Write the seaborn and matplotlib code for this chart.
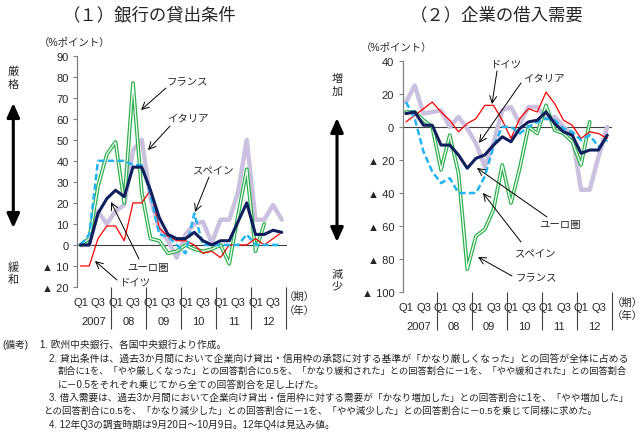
import numpy as np
import matplotlib
matplotlib.use('Agg')
import matplotlib.pyplot as plt
from matplotlib.text import Annotation
import seaborn as sns

# quarterly, 2007Q1 - 2012Q4, %pt
# (1) bank lending conditions
lend_euro    = [0, 0, 15, 22, 26, 23, 37, 37, 26, 13, 5, 3, 3, 6, 2, 0, 2, 2, 11, 20, 5, 5, 7, 6]
lend_germany = [-10, -10, 3, 9, 9, 2, 20, 20, 26, 8, 4, 2, 2, 0, -4, -3, -6, 0, 0, 0, 3, 0, 3, 6]
lend_france  = [0, 3, 28, 43, 49, 20, 77, 25, 3, 2, -4, -3, 0, -2, -3, -2, 0, -9, 14, 36, -3, 10, np.nan, np.nan]
lend_italy   = [0, 0, 16, 10, 16, 19, 45, 50, 22, 8, 2, -6, 5, 10, 11, 1, 12, 12, 25, 50, 12, 12, 19, 12]
lend_spain   = [0, 5, 40, 40, 40, 40, 38, 38, 24, 5, 4, 0, -4, 15, 0, 0, 0, 0, 0, 5, 0, 0, 0, 0]

# (2) corporate loan demand
dem_euro    = [8, 9, 1, 1, -11, -11, -17, -25, -19, -17, -11, -6, -9, -1, 3, 4, 9, 2, -3, -5, -16, -14, -14, -5]
dem_germany = [3, 7, 11, 15, 9, 4, -3, 2, 5, 13, 13, 4, -7, 5, 11, 9, 21, 14, 4, 1, -7, -3, -4, -7]
dem_france  = [9, 9, 4, 0, -26, -5, -28, -86, -66, -62, -50, -23, -46, -25, 0, -4, 13, -2, -4, -9, -23, 3, np.nan, np.nan]
dem_italy   = [15, 25, 8, 9, 10, 0, 6, -1, -10, -24, -10, 10, 12, 2, 12, 12, 5, 6, 0, -5, -38, -38, -18, 0]
dem_spain   = [15, 5, -15, -27, -34, -31, -40, -40, -40, -30, -12, 0, 0, -4, 0, 3, 5, 4, -1, -3, -8, -5, -12, -8]

quarter_labels = ['Q1', 'Q3'] * 6
year_labels = ['2007', '08', '09', '10', '11', '12']

sns.set_style('white')
plt.rcParams['font.family'] = ['Liberation Sans', 'Noto Sans CJK JP', 'DejaVu Sans']
plt.rcParams['axes.unicode_minus'] = False

W, H = 643, 439
fig = plt.figure(figsize=(W / 100, H / 100), dpi=100)


def fx(x):
    return x / W


def fy(y):
    return 1 - y / H


QW = 8.75  # px per quarter


def make_axes(q0_px, top_px, bottom_px):
    left = q0_px - 0.4 * QW
    ax = fig.add_axes([fx(left), fy(bottom_px), 23.95 * QW / W, (bottom_px - top_px) / H])
    ax.patch.set_visible(False)
    return ax


def draw_lines(ax, euro, germany, france, italy, spain):
    x = np.arange(len(euro))
    kw = dict(ax=ax, errorbar=None, legend=False)
    sns.lineplot(x=x, y=italy, color='#cbc1de', linewidth=3.2, zorder=2, **kw)
    sns.lineplot(x=x, y=france, color='#2bb04c', linewidth=2.7, zorder=3, **kw)
    sns.lineplot(x=x, y=france, color='white', linewidth=0.9, zorder=3.1, **kw)
    sns.lineplot(x=x, y=germany, color='#ff0000', linewidth=0.9, zorder=4, **kw)
    sns.lineplot(x=x, y=spain, color='#22b4f0', linewidth=1.8, linestyle=(0, (2.6, 1.3)), zorder=5, **kw)
    sns.lineplot(x=x, y=euro, color='#0f1f5e', linewidth=2.2, zorder=6, **kw)


def setup_axes(ax, ymin, ymax, step, sep_len):
    ax.set_xlim(-0.4, 23.55)
    ax.set_ylim(ymin, ymax)
    ticks = np.arange(ymin, ymax + 1, step)
    ax.set_yticks(ticks)
    ax.set_yticklabels([f'{t}' if t >= 0 else f'▲ {-t}' for t in ticks])
    ax.set_xticks(range(0, 24, 2))
    ax.set_xticklabels(quarter_labels)
    ax.set_xticks(np.arange(3.5, 24, 4), minor=True)
    ax.tick_params(axis='x', which='major', bottom=True, length=0, pad=7, labelsize=8)
    ax.tick_params(axis='x', which='minor', bottom=True, length=sep_len, width=0.8,
                   color='#404040', direction='out')
    ax.tick_params(axis='y', left=True, length=3, width=0.8, color='#808080', pad=3, labelsize=8)
    for s in ['top', 'right', 'bottom']:
        ax.spines[s].set_visible(False)
    ax.spines['left'].set_color('#808080')
    ax.spines['left'].set_linewidth(0.9)
    ax.axhline(0, color='#404040', lw=0.8, zorder=1)
    ax.set_xlabel('')
    ax.set_ylabel('')
    for i, yr in enumerate(year_labels):
        ax.text(1.5 + 4 * i, -0.147, yr, transform=ax.get_xaxis_transform(),
                ha='center', va='center', fontsize=8)


ax1 = make_axes(80.5, 56.7, 288)
draw_lines(ax1, lend_euro, lend_germany, lend_france, lend_italy, lend_spain)
setup_axes(ax1, -20, 90, 10, 30)

ax2 = make_axes(406, 61.7, 293.3)
draw_lines(ax2, dem_euro, dem_germany, dem_france, dem_italy, dem_spain)
setup_axes(ax2, -100, 40, 20, 27)

# titles and unit labels
fig.text(fx(150), fy(15), '（１）銀行の貸出条件', ha='center', va='center', fontsize=12.5)
fig.text(fx(497), fy(15), '（２）企業の借入需要', ha='center', va='center', fontsize=12.5)
fig.text(fx(75), fy(43), '（%ポイント）', ha='center', va='center', fontsize=7.5)
fig.text(fx(397), fy(48), '（%ポイント）', ha='center', va='center', fontsize=7.5)
for x, y1, y2 in [(299, 297, 311), (627, 303, 316)]:
    fig.text(fx(x), fy(y1), '（期）', ha='center', va='center', fontsize=7.5)
    fig.text(fx(x), fy(y2), '（年）', ha='center', va='center', fontsize=7.5)


def fig_arrow(tip, tail, style, lw, scale):
    fig.add_artist(Annotation('', xy=(fx(tip[0]), fy(tip[1])), xytext=(fx(tail[0]), fy(tail[1])),
                              xycoords='figure fraction', textcoords='figure fraction',
                              arrowprops=dict(arrowstyle=style, lw=lw, color='black',
                                              mutation_scale=scale, shrinkA=0, shrinkB=0)))


# side labels with double arrows
side = [
    (13.3, '厳\n格', 78.5, '緩\n和', 273.5, 104, 229),
    (337, '増\n加', 85.5, '減\n少', 280.5, 119, 243),
]
for x, top_txt, top_y, bot_txt, bot_y, a_top, a_bot in side:
    fig.text(fx(x), fy(top_y), top_txt, ha='center', va='center', fontsize=8, linespacing=1.35)
    fig.text(fx(x), fy(bot_y), bot_txt, ha='center', va='center', fontsize=8, linespacing=1.25)
    fig_arrow((x, a_top), (x, a_bot), '<|-|>,head_length=0.85,head_width=0.38', 2.2, 10)

# series call-outs: (label, text centre, arrow tail, arrow tip) in px
callouts = [
    ('フランス', (187, 82), (166, 89), (141, 111)),
    ('イタリア', (188, 119), (170, 127), (148, 151)),
    ('スペイン', (214, 170), (209, 178), (195, 213)),
    ('ユーロ圏', (148, 268), (139, 260), (111, 203)),
    ('ドイツ', (136, 283), (117, 281), (95, 262)),
    ('ドイツ', (507, 65), (497, 72), (492, 105)),
    ('イタリア', (544, 79), (521, 84), (479, 144)),
    ('ユーロ圏', (560, 225), (547, 218), (477, 169)),
    ('スペイン', (536, 253), (521, 243), (483, 194)),
    ('フランス', (536, 278), (512, 277), (478, 258)),
]
for label, (tx, ty), tail, tip in callouts:
    fig.text(fx(tx), fy(ty), label, ha='center', va='center', fontsize=7.5)
    fig_arrow(tip, tail, '->,head_length=0.5,head_width=0.25', 0.7, 10)

# notes: (x start, text, target right edge or None)
notes = [
    (2, '(備考)', None),
    (40, '1. 欧州中央銀行、各国中央銀行より作成。', None),
    (49, '2. 貸出条件は、過去3か月間において企業向け貸出・信用枠の承認に対する基準が「かなり厳しくなった」との回答が全体に占める', 630),
    (58, '割合に1を、「やや厳しくなった」との回答割合に0.5を、「かなり緩和された」との回答割合に－1を、「やや緩和された」との回答割合', 628),
    (58, 'に－0.5をそれぞれ乗じてから全ての回答割合を足し上げた。', None),
    (49, '3. 借入需要は、過去3か月間において企業向け貸出・信用枠に対する需要が「かなり増加した」との回答割合に1を、「やや増加した」', 628),
    (43, 'との回答割合に0.5を、「かなり減少した」との回答割合に－1を、「やや減少した」との回答割合に－0.5を乗じて同様に求めた。', 597),
    (49, '4. 12年Q3の調査時期は9月20日～10月9日。12年Q4は見込み値。', None),
]
ys = [345, 345, 358.5, 371.5, 384.5, 398, 411, 424.5]
note_texts = []
for (x, s, end), y in zip(notes, ys):
    t = fig.text(fx(x), fy(y), s, ha='left', va='center', fontsize=7, color='#222222')
    note_texts.append((t, x, end))

fig.canvas.draw()
renderer = fig.canvas.get_renderer()
for t, x, end in note_texts:
    if end is None:
        continue
    w = t.get_window_extent(renderer).width
    scale = np.clip((end - x) / w, 0.88, 1.05)
    t.set_fontsize(7 * scale)

fig.savefig('out.png', dpi=100)
